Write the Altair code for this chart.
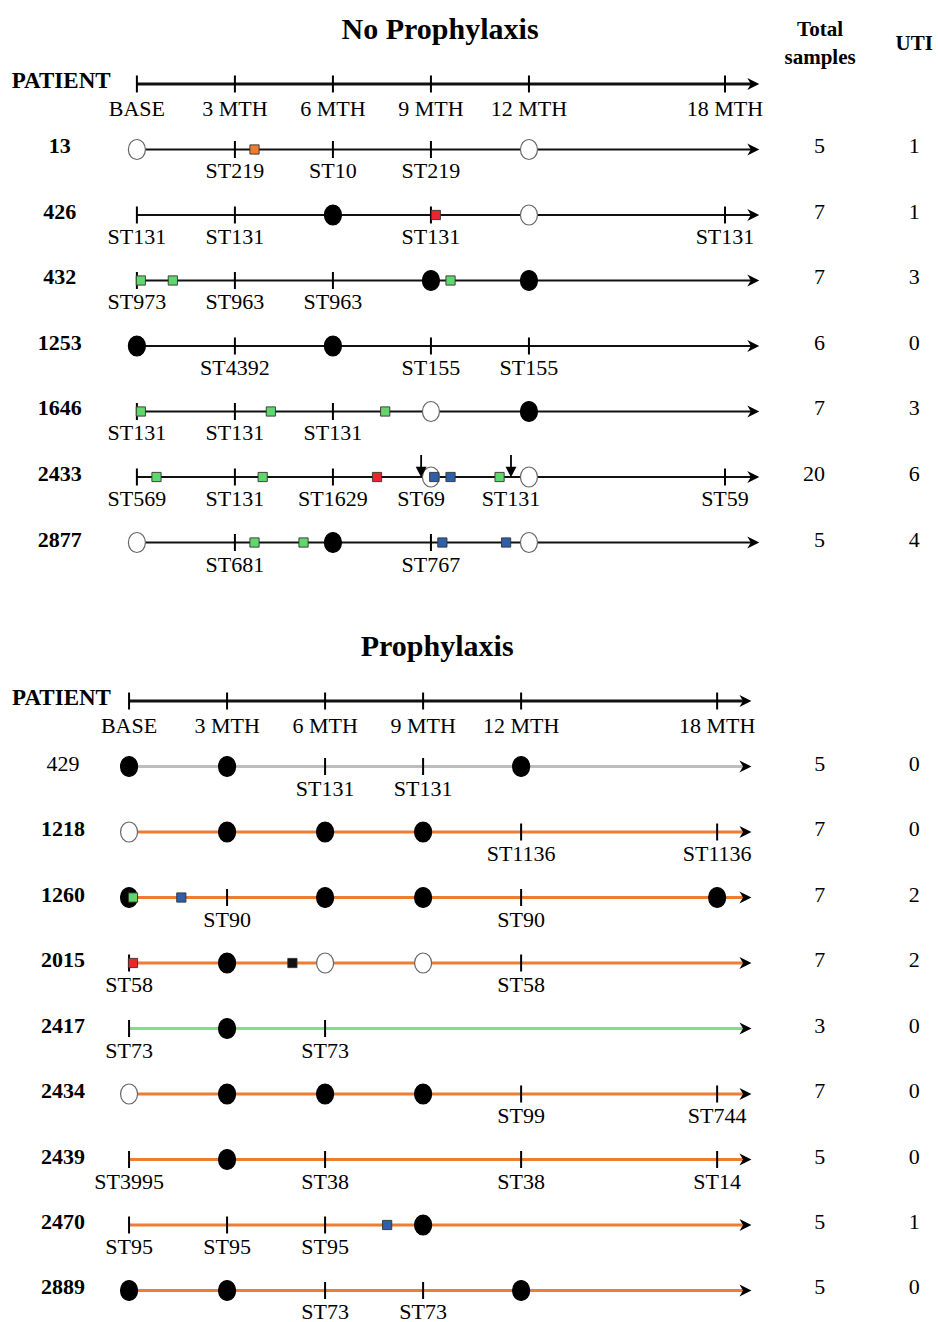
import altair as alt
import pandas as pd

FONT = "Liberation Serif"

# ---------------- shared time axis ----------------
header_months = [0, 3, 6, 9, 12, 18]
header_labels = ["BASE", "3 MTH", "6 MTH", "9 MTH", "12 MTH", "18 MTH"]
axis_tip = 19.05      # month at the arrow tip
line_end = 18.8       # month where the shaft ends (under the arrowhead)

square_colors = {"orange": "#ED7D31", "red": "#E8262B", "green": "#62D66E",
                 "blue": "#2E5FA8", "black": "#111111"}

# ---------------- No Prophylaxis ----------------
np_patients = ["13", "426", "432", "1253", "1646", "2433", "2877"]
np_bold = [True, True, True, True, True, True, True]
np_total = [5, 7, 7, 6, 7, 20, 5]
np_uti = [1, 1, 3, 0, 3, 6, 4]
np_line_colors = ["#111111"] * 7
np_ticks = [[3, 6, 9], [0, 3, 9, 18], [0, 3, 6], [3, 9, 12], [0, 3, 6], [0, 3, 6, 18], [3, 9]]
np_labels = [
    [(3, "ST219"), (6, "ST10"), (9, "ST219")],
    [(0, "ST131"), (3, "ST131"), (9, "ST131"), (18, "ST131")],
    [(0, "ST973"), (3, "ST963"), (6, "ST963")],
    [(3, "ST4392"), (9, "ST155"), (12, "ST155")],
    [(0, "ST131"), (3, "ST131"), (6, "ST131")],
    [(0, "ST569"), (3, "ST131"), (6, "ST1629"), (8.7, "ST69"), (11.45, "ST131"), (18, "ST59")],
    [(3, "ST681"), (9, "ST767")],
]
# (month, filled)
np_circles = [
    [(0, False), (12, False)],
    [(6, True), (12, False)],
    [(9, True), (12, True)],
    [(0, True), (6, True)],
    [(9, False), (12, True)],
    [(9, False), (12, False)],
    [(0, False), (6, True), (12, False)],
]
np_squares = [
    [(3.6, "orange")],
    [(9.15, "red")],
    [(0.12, "green"), (1.1, "green"), (9.6, "green")],
    [],
    [(0.12, "green"), (4.1, "green"), (7.6, "green")],
    [(0.6, "green"), (3.85, "green"), (7.35, "red"), (9.1, "blue"), (9.6, "blue"), (11.1, "green")],
    [(3.6, "green"), (5.1, "green"), (9.35, "blue"), (11.3, "blue")],
]
np_arrows = [[], [], [], [], [], [8.7, 11.45], []]

# ---------------- Prophylaxis ----------------
p_patients = ["429", "1218", "1260", "2015", "2417", "2434", "2439", "2470", "2889"]
p_bold = [False, True, True, True, True, True, True, True, True]
p_total = [5, 7, 7, 7, 3, 7, 5, 5, 5]
p_uti = [0, 0, 2, 2, 0, 0, 0, 1, 0]
p_line_colors = ["#BDBDBD", "#EE7D31", "#EE7D31", "#EE7D31", "#7FE084",
                 "#EE7D31", "#EE7D31", "#EE7D31", "#EE7D31"]
p_ticks = [[6, 9], [12, 18], [3, 12], [0, 12], [0, 6], [12, 18], [0, 6, 12, 18], [0, 3, 6], [6, 9]]
p_labels = [
    [(6, "ST131"), (9, "ST131")],
    [(12, "ST1136"), (18, "ST1136")],
    [(3, "ST90"), (12, "ST90")],
    [(0, "ST58"), (12, "ST58")],
    [(0, "ST73"), (6, "ST73")],
    [(12, "ST99"), (18, "ST744")],
    [(0, "ST3995"), (6, "ST38"), (12, "ST38"), (18, "ST14")],
    [(0, "ST95"), (3, "ST95"), (6, "ST95")],
    [(6, "ST73"), (9, "ST73")],
]
p_circles = [
    [(0, True), (3, True), (12, True)],
    [(0, False), (3, True), (6, True), (9, True)],
    [(0, True), (6, True), (9, True), (18, True)],
    [(3, True), (6, False), (9, False)],
    [(3, True)],
    [(0, False), (3, True), (6, True), (9, True)],
    [(3, True)],
    [(9, True)],
    [(0, True), (3, True), (12, True)],
]
p_squares = [
    [], [],
    [(0.12, "green"), (1.6, "blue")],
    [(0.12, "red"), (5.0, "black")],
    [], [], [],
    [(7.9, "blue")],
    [],
]
p_arrows = [[] for _ in p_patients]

ARROW_HEAD = "M 0 0 L -1 -0.5 L -0.7 0 L -1 0.5 Z"
DOWN_ARROW = "M 0 -2 L 0 -0.7 M -0.36 -0.85 L 0 -0.15 L 0.36 -0.85 Z"
ELLIPSE = "M -0.85 0 A 0.85 1 0 1 0 0.85 0 A 0.85 1 0 1 0 -0.85 0 Z"


def panel(title, patients, bold, total, uti, line_colors, ticks, labels, circles,
          squares, arrows, layout, line_width, show_col_headers):
    xs = alt.Scale(domain=layout["xdom"], nice=False, zero=False)
    ys = alt.Scale(domain=layout["ydom"], reverse=True, nice=False, zero=False)

    def X(f):
        return alt.X(f, type="quantitative", scale=xs, axis=None)

    def Y(f):
        return alt.Y(f, type="quantitative", scale=ys, axis=None)

    rows = list(range(1, len(patients) + 1))

    lines = pd.DataFrame(
        [{"row": 0, "x0": 0, "x1": line_end, "color": "#111111", "w": 3.0}] +
        [{"row": r, "x0": 0, "x1": line_end, "color": c, "w": line_width}
         for r, c in zip(rows, line_colors)])
    heads = pd.DataFrame([{"row": r, "x": axis_tip} for r in [0] + rows])
    tick_df = pd.DataFrame(
        [{"row": 0, "x": m} for m in header_months] +
        [{"row": r, "x": m} for r, t in zip(rows, ticks) for m in t])
    hlab = pd.DataFrame({"row": 0, "x": header_months, "text": header_labels})
    lab = pd.DataFrame([{"row": r, "x": m, "text": s}
                        for r, ls in zip(rows, labels) for m, s in ls])
    circ = pd.DataFrame([{"row": r, "x": m,
                          "fill": "#000000" if f else "#FFFFFF",
                          "stroke": "#000000" if f else "#666666"}
                         for r, cs in zip(rows, circles) for m, f in cs])
    sq = pd.DataFrame([{"row": r, "x": m, "color": square_colors[c]}
                       for r, ss in zip(rows, squares) for m, c in ss])
    arr = pd.DataFrame([{"row": r, "x": m} for r, a in zip(rows, arrows) for m in a])
    pat = pd.DataFrame({"row": rows, "text": patients, "bold": bold,
                        "x": layout["patient_x"]})
    nums = pd.DataFrame({"row": rows, "total": [str(v) for v in total],
                         "uti": [str(v) for v in uti],
                         "tx": layout["total_x"], "ux": layout["uti_x"]})

    layers = []
    layers.append(alt.Chart(lines).mark_rule(opacity=1).encode(
        x=X("x0"), x2="x1", y=Y("row"),
        color=alt.Color("color:N", scale=None),
        strokeWidth=alt.StrokeWidth("w:Q", scale=None)))
    layers.append(alt.Chart(heads).mark_point(
        shape=ARROW_HEAD, size=576, filled=True, color="#000000", opacity=1).encode(
        x=X("x"), y=Y("row")))
    layers.append(alt.Chart(tick_df).mark_tick(
        orient="vertical", size=17, thickness=2, color="#000000", opacity=1).encode(
        x=X("x"), y=Y("row")))
    layers.append(alt.Chart(hlab).mark_text(
        font=FONT, fontSize=22, baseline="middle", align="center", dy=25,
        color="#000000").encode(x=X("x"), y=Y("row"), text="text:N"))
    layers.append(alt.Chart(lab).mark_text(
        font=FONT, fontSize=22, baseline="middle", align="center", dy=22,
        color="#000000").encode(x=X("x"), y=Y("row"), text="text:N"))
    if len(circ):
        layers.append(alt.Chart(circ).mark_point(
            shape=ELLIPSE, size=400, filled=True, strokeWidth=1.2, opacity=1).encode(
            x=X("x"), y=Y("row"),
            fill=alt.Fill("fill:N", scale=None),
            stroke=alt.Stroke("stroke:N", scale=None)))
    if len(sq):
        layers.append(alt.Chart(sq).mark_point(
            shape="square", size=85, filled=True, stroke="#333333", strokeWidth=0.9,
            opacity=1).encode(
            x=X("x"), y=Y("row"), fill=alt.Fill("color:N", scale=None)))
    if len(arr):
        layers.append(alt.Chart(arr).mark_point(
            shape=DOWN_ARROW, size=484, filled=True, stroke="#000000",
            strokeWidth=1.8, color="#000000", opacity=1).encode(
            x=X("x"), y=Y("row")))
    for is_bold in [True, False]:
        sub = pat[pat["bold"] == is_bold]
        if len(sub):
            layers.append(alt.Chart(sub).mark_text(
                font=FONT, fontSize=22, fontWeight="bold" if is_bold else "normal",
                baseline="middle", align="center", dy=-3, color="#000000").encode(
                x=X("x"), y=Y("row"), text="text:N"))
    layers.append(alt.Chart(nums).mark_text(
        font=FONT, fontSize=22, baseline="middle", align="right", dy=-3,
        color="#000000").encode(x=X("tx"), y=Y("row"), text="total:N"))
    layers.append(alt.Chart(nums).mark_text(
        font=FONT, fontSize=22, baseline="middle", align="center", dy=-3,
        color="#000000").encode(x=X("ux"), y=Y("row"), text="uti:N"))

    ttl = pd.DataFrame([{"x": layout["title_x"], "row": layout["title_row"], "text": title}])
    layers.append(alt.Chart(ttl).mark_text(
        font=FONT, fontSize=30, fontWeight="bold", baseline="middle", align="center",
        color="#000000").encode(x=X("x"), y=Y("row"), text="text:N"))
    ph = pd.DataFrame([{"x": layout["patient_hdr_x"], "row": 0, "text": "PATIENT"}])
    layers.append(alt.Chart(ph).mark_text(
        font=FONT, fontSize=23, fontWeight="bold", baseline="middle", align="left",
        dy=-3, color="#000000").encode(x=X("x"), y=Y("row"), text="text:N"))
    if show_col_headers:
        ch = pd.DataFrame([
            {"x": layout["total_hdr_x"], "row": layout["total_hdr_row"], "text": "Total"},
            {"x": layout["total_hdr_x"], "row": layout["samples_hdr_row"], "text": "samples"},
            {"x": layout["uti_x"], "row": layout["uti_hdr_row"], "text": "UTI"},
        ])
        layers.append(alt.Chart(ch).mark_text(
            font=FONT, fontSize=21, fontWeight="bold", baseline="middle", align="center",
            color="#000000").encode(x=X("x"), y=Y("row"), text="text:N"))

    return alt.layer(*layers).properties(width=938, height=layout["height"])


top_layout = {"xdom": [-4.19, 24.52], "ydom": [-1.282, 8.183], "height": 620,
              "patient_x": -2.36, "total_x": 21.06, "uti_x": 23.79,
              "title_x": 9.28, "title_row": -0.824, "patient_hdr_x": -3.83,
              "total_hdr_x": 20.91, "total_hdr_row": -0.824,
              "samples_hdr_row": -0.397, "uti_hdr_row": -0.611}
bot_layout = {"xdom": [-3.95, 24.76], "ydom": [-1.237, 9.481], "height": 702,
              "patient_x": -2.02, "total_x": 21.31, "uti_x": 24.03,
              "title_x": 9.43, "title_row": -0.824, "patient_hdr_x": -3.58}

top = panel("No  Prophylaxis", np_patients, np_bold, np_total, np_uti, np_line_colors,
            np_ticks, np_labels, np_circles, np_squares, np_arrows, top_layout, 2.2, True)
bottom = panel("Prophylaxis", p_patients, p_bold, p_total, p_uti, p_line_colors,
               p_ticks, p_labels, p_circles, p_squares, p_arrows, bot_layout, 3.0, False)

chart = alt.vconcat(top, bottom, spacing=0).resolve_scale(
    x="independent", y="independent").configure_view(stroke=None).properties(
    padding=0, background="white")

chart.save("out.html", embed_options={"renderer": "svg", "actions": False})
